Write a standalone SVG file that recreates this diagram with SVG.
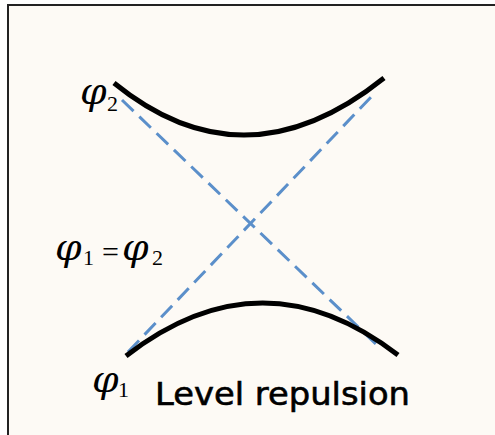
<svg xmlns="http://www.w3.org/2000/svg" width="495" height="435" viewBox="0 0 495 435">
<style>
.curve{fill:none;stroke:#000;stroke-width:5;stroke-linecap:butt}
.dash{fill:none;stroke:#5b8fca;stroke-width:3;stroke-dasharray:16 8}
.phi{font-family:"DejaVu Serif",serif;font-style:italic;font-size:38px;fill:#000}
.sub{font-family:"Liberation Serif",serif;font-size:22px;fill:#000}
.eq{font-family:"Liberation Serif",serif;font-size:30px;fill:#000}
.lbl{font-family:"DejaVu Sans","Comic Sans MS",sans-serif;fill:#000}
</style>
<rect x="0" y="0" width="495" height="435" fill="#ffffff"/>
<rect x="8" y="5" width="500" height="450" fill="#fdfaf5" stroke="#222" stroke-width="2"/>
<g id="connectors">
<path class="dash" d="M122,100 L378,346"/>
<path class="dash" d="M128,352 L372,96"/>
</g>
<g id="upper-level">
<path class="curve" d="M114,83 Q245,189.5 384,78"/>
</g>
<g id="lower-level">
<path class="curve" d="M126,356 Q262,250.5 398,355"/>
</g>
<g id="label-phi2">
<text class="phi" x="80" y="104">φ</text>
<text class="sub" x="107" y="111">2</text>
</g>
<g id="label-equal">
<text class="phi" x="55" y="260">φ</text>
<text class="sub" x="83" y="265">1</text>
<text class="eq" x="102" y="262">=</text>
<text class="phi" x="122" y="260">φ</text>
<text class="sub" x="152" y="265">2</text>
</g>
<g id="label-phi1">
<text class="phi" x="92" y="392">φ</text>
<text class="sub" x="118" y="397">1</text>
</g>
<g id="label-title">
<text class="lbl" x="155" y="405" font-size="32" stroke="#000" stroke-width="0.6" textLength="255" lengthAdjust="spacingAndGlyphs">Level repulsion</text>
</g>
</svg>
